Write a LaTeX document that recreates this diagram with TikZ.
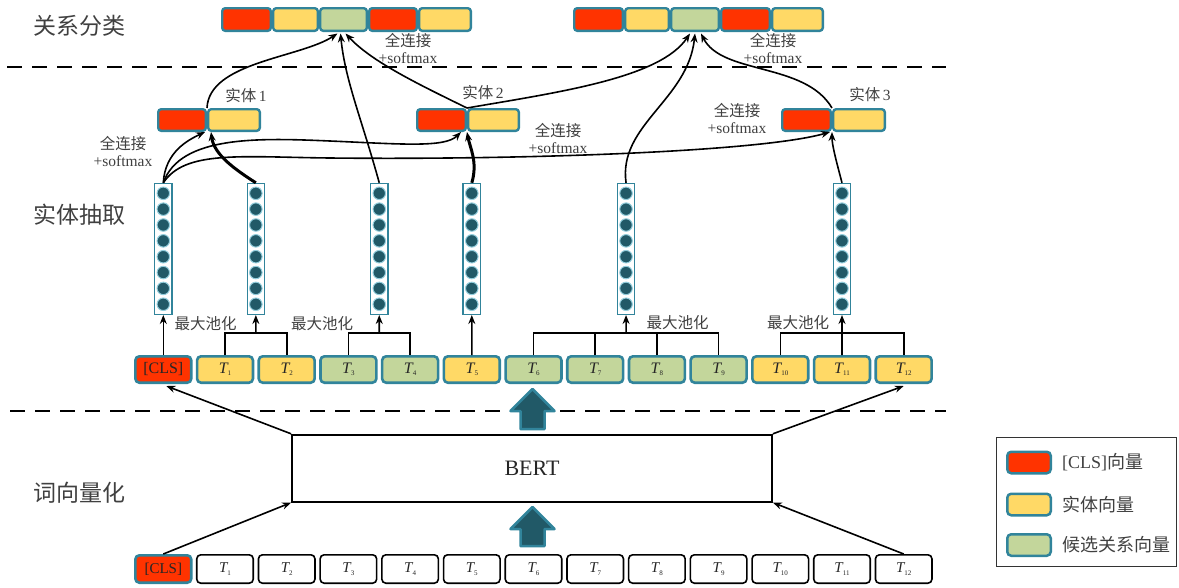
\documentclass[tikz,border=0pt]{standalone}
\usepackage{fontspec}
\setmainfont{Liberation Serif}
\newfontfamily\cjk{Noto Sans CJK SC}
\usetikzlibrary{arrows.meta,calc}
\definecolor{cred}{HTML}{FF3300}
\definecolor{cyel}{HTML}{FFD966}
\definecolor{cgrn}{HTML}{C3D69B}
\definecolor{cteal}{HTML}{31849B}
\definecolor{cdark}{HTML}{215967}
\definecolor{clight}{HTML}{92CDDC}
\definecolor{ctxt}{HTML}{404040}
\newcommand\tT[1]{{\itshape T}\raisebox{-2.5pt}{\fontsize{7}{7}\selectfont #1}}
\begin{document}
\begin{tikzpicture}[x=1pt,y=-1pt,
 seg/.style={draw=cteal, line width=2.4pt, rounded corners=3pt, inner sep=0pt, minimum height=22.6pt},
 eseg/.style={draw=cteal, line width=2.4pt, rounded corners=3pt, inner sep=0pt, minimum height=21.6pt},
 tok/.style={draw=cteal, line width=2.6pt, rounded corners=4pt, inner sep=0pt, minimum width=55.9pt, minimum height=26.4pt, font=\fontsize{16}{16}\selectfont, text=black!85},
 wtok/.style={draw=black, line width=1.6pt, rounded corners=4pt, fill=white, inner sep=0pt, minimum width=56.5pt, minimum height=28.4pt, font=\fontsize{15}{15}\selectfont, text=black!85},
 vcol/.style={draw=cteal, line width=1.2pt, fill=white, minimum width=17.5pt, minimum height=131pt, inner sep=0pt},
 dot/.style={circle, fill=cdark, draw=clight, line width=1pt, minimum size=12.5pt, inner sep=0pt},
 side/.style={text=ctxt, font=\cjk\fontsize{23}{23}\selectfont, inner sep=0pt},
 lab/.style={text=ctxt, font=\fontsize{15.5}{17}\selectfont, align=center, inner sep=0pt},
 leglab/.style={text=ctxt, font=\fontsize{18}{18}\selectfont, anchor=west, inner sep=0pt},
 sw/.style={draw=cteal, line width=2.5pt, rounded corners=4pt, minimum width=43.5pt, minimum height=21.5pt, inner sep=0pt},
 ln/.style={line width=1.6pt},
 arr/.style={line width=1.6pt, -{Stealth[length=9pt,width=7pt]}},
 tarr/.style={line width=3pt, -{Stealth[length=9pt,width=7pt]}},
 sepline/.style={line width=1.8pt, dash pattern=on 15pt off 10pt},
 bigarr/.style={fill=cdark, draw=cteal, line width=2.5pt, line join=round}
]
\useasboundingbox (0,0) rectangle (1179,587);

% side labels
\node[side] (s1) at (80,26) {关系分类};
\node[side] (s2) at (80,215) {实体抽取};
\node[side] (s3) at (80,493) {词向量化};

% dashed separators
\coordinate (d1a) at (7,66.7); \coordinate (d1b) at (946,66.7);
\coordinate (d2a) at (10,411); \coordinate (d2b) at (946,411);
\draw[sepline] (d1a) -- (d1b);
\draw[sepline] (d2a) -- (d2b);

% top bars
\node[seg,fill=cred,minimum width=48.6pt] (a1) at (246.5,19.5) {};
\node[seg,fill=cyel,minimum width=44.6pt] (a2) at (295.5,19.5) {};
\node[seg,fill=cgrn,minimum width=46.6pt] (a3) at (343.5,19.5) {};
\node[seg,fill=cred,minimum width=47.6pt] (a4) at (393,19.5) {};
\node[seg,fill=cyel,minimum width=51.6pt] (a5) at (445,19.5) {};
\node[seg,fill=cred,minimum width=48.6pt] (b1) at (598.5,19.5) {};
\node[seg,fill=cyel,minimum width=43.6pt] (b2) at (647,19.5) {};
\node[seg,fill=cgrn,minimum width=47.6pt] (b3) at (695,19.5) {};
\node[seg,fill=cred,minimum width=48.6pt] (b4) at (745.5,19.5) {};
\node[seg,fill=cyel,minimum width=50.6pt] (b5) at (797.5,19.5) {};

% entity boxes
\node[eseg,fill=cred,minimum width=47.6pt] (e1r) at (182,120) {};
\node[eseg,fill=cyel,minimum width=51.6pt] (e1y) at (234,120) {};
\node[eseg,fill=cred,minimum width=48.6pt] (e2r) at (441.5,120) {};
\node[eseg,fill=cyel,minimum width=50.6pt] (e2y) at (493.5,120) {};
\node[eseg,fill=cred,minimum width=48.6pt] (e3r) at (806.5,120) {};
\node[eseg,fill=cyel,minimum width=51.6pt] (e3y) at (859,120) {};

\node[lab] (n1) at (246,96) {\cjk 实体\,\rmfamily 1};
\node[lab] (n2) at (483,93) {\cjk 实体\,\rmfamily 2};
\node[lab] (n3) at (870,95) {\cjk 实体\,\rmfamily 3};

% fc labels
\node[lab] (f1) at (408,48.5) {{\cjk 全连接}\\+softmax};
\node[lab] (f2) at (773,48.5) {{\cjk 全连接}\\+softmax};
\node[lab] (f3) at (123,151) {{\cjk 全连接}\\+softmax};
\node[lab] (f4) at (558,138) {{\cjk 全连接}\\+softmax};
\node[lab] (f5) at (737,118.5) {{\cjk 全连接}\\+softmax};

% vector columns
\foreach \n/\x in {0/163.3, 1/255.85, 2/379.25, 3/471.8, 4/626.05, 5/842.0} {
  \node[vcol] (v\n) at (\x,248.9) {};
  \foreach \k in {0,...,7} \node[dot] (v\n d\k) at (\x,{193.3+15.85*\k}) {};
}

% upper token row
\foreach \i/\c/\t in {0/cred/{[CLS]},1/cyel/{\tT{1}},2/cyel/{\tT{2}},3/cgrn/{\tT{3}},4/cgrn/{\tT{4}},5/cyel/{\tT{5}},6/cgrn/{\tT{6}},7/cgrn/{\tT{7}},8/cgrn/{\tT{8}},9/cgrn/{\tT{9}},10/cyel/{\tT{10}},11/cyel/{\tT{11}},12/cyel/{\tT{12}}}
  \node[tok,fill=\c] (u\i) at ({163.3+61.7*\i},369.5) {\t};

% lower token row
\node[tok,fill=cred,minimum height=27.4pt,font=\fontsize{15}{15}\selectfont] (w0) at (163.3,569) {[CLS]};
\foreach \i in {1,...,12}
  \node[wtok] (w\i) at ({163.3+61.7*\i},569) {\tT{\i}};

% pooling
\node[lab,font=\cjk\fontsize{15.5}{17}\selectfont] (p1) at (205.5,324) {最大池化};
\node[lab,font=\cjk\fontsize{15.5}{17}\selectfont] (p2) at (322,324) {最大池化};
\node[lab,font=\cjk\fontsize{15.5}{17}\selectfont] (p3) at (677.5,323) {最大池化};
\node[lab,font=\cjk\fontsize{15.5}{17}\selectfont] (p4) at (798,323) {最大池化};

\draw[arr] (u0.north) -- (v0.south);
\draw[ln] (u1.north) -- ++(0,-22) -| (u2.north);
\draw[arr] ($(u1.north)!0.5!(u2.north)+(0,-22)$) -- (v1.south);
\draw[ln] (u3.north) -- ++(0,-22) -| (u4.north);
\draw[arr] ($(u3.north)!0.5!(u4.north)+(0,-22)$) -- (v2.south);
\draw[arr] (u5.north) -- (v3.south);
\draw[ln] (u6.north) -- ++(0,-22) -| (u9.north);
\draw[ln] (u7.north) -- ++(0,-22);
\draw[ln] (u8.north) -- ++(0,-22);
\draw[arr] ($(u6.north)!0.5!(u9.north)+(0,-22)$) -- (v4.south);
\draw[ln] (u10.north) -- ++(0,-22) -| (u12.north);
\draw[arr] (u11.north) -- (v5.south);

% column -> entity curves
\draw[arr] (v0.north) .. controls (165,152) and (188,140) .. ($(e1r.south east)+(-2,0)$);
\draw[arr] (v0.north) .. controls (180,135) and (260,138) .. (330,141) .. controls (400,144) and (445,148) .. ($(e2r.south east)+(-6,0)$);
\draw[arr] (v0.north) .. controls (185,150) and (240,157) .. (330,158) .. controls (520,160) and (760,152) .. ($(e3r.south east)+(-2,0)$);
\draw[tarr] (v1.north) .. controls (236,170) and (214,155) .. ($(e1y.south west)+(4,0)$);
\draw[tarr] (v3.north) .. controls (478,162) and (470,148) .. (e2y.south west);
\draw[arr] (v5.north) .. controls (836,160) and (832,145) .. (e3y.south west);

% -> relation bars
\draw[arr] (e1r.north east) .. controls (209,62) and (300,58) .. ($(a3.south)+(-6,1.5)$);
\draw[arr] (v2.north) .. controls (362,120) and (345,80) .. ($(a3.south)+(-3,1.5)$);
\draw[arr] (e2r.north east) .. controls (420,85) and (372,62) .. ($(a3.south)+(2,1.5)$);
\draw[arr] (e2r.north east) .. controls (560,92) and (660,78) .. ($(b3.south)+(-5,1.5)$);
\draw[arr] (v4.north) .. controls (618,125) and (688,100) .. ($(b3.south)+(0,1.5)$);
\draw[arr] (e3r.north east) .. controls (805,62) and (722,75) .. ($(b3.south)+(6,1.5)$);

% BERT
\node[draw, line width=1.8pt, minimum width=480pt, minimum height=67pt, inner sep=0pt, font=\fontsize{22}{22}\selectfont, text=black!85] (bert) at (532,468.2) {BERT};
\draw[arr] (bert.north west) -- ($(u0.south)+(3,2)$);
\draw[arr] (bert.north east) -- ($(u12.south)+(0,2)$);
\draw[arr] (w0.north) -- (bert.south west);
\draw[arr] (w12.north) -- (bert.south east);

% big block arrows
\draw[bigarr] (532.5,389) -- (554.5,411) -- (544.5,411) -- (544.5,429) -- (520.5,429) -- (520.5,411) -- (510.5,411) -- cycle;
\draw[bigarr] (532.5,507) -- (554.5,529) -- (544.5,529) -- (544.5,546) -- (520.5,546) -- (520.5,529) -- (510.5,529) -- cycle;

% legend
\node[draw=black!80, line width=1pt, minimum width=180pt, minimum height=129pt, inner sep=0pt] (leg) at (1086.5,502.2) {};
\node[sw,fill=cred] (g1) at (1029,462.5) {};
\node[sw,fill=cyel] (g2) at (1029,504.5) {};
\node[sw,fill=cgrn] (g3) at (1029,545) {};
\node[leglab] (h1) at (1062,462.5) {[CLS]{\cjk 向量}};
\node[leglab] (h2) at (1062,504.5) {\cjk 实体向量};
\node[leglab] (h3) at (1062,545) {\cjk 候选关系向量};
\end{tikzpicture}
\end{document}
